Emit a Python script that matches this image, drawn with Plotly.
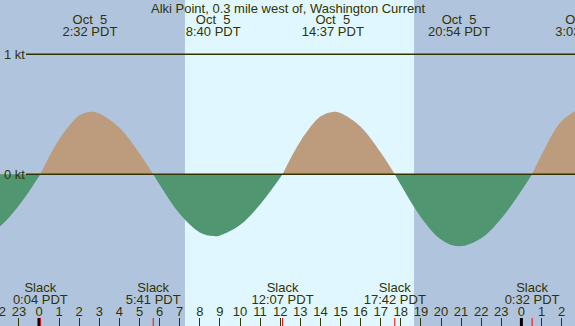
import plotly.graph_objects as go

# ---- data (hours from Oct 5 00:00 PDT) ----
hours = [-3, -2, -1, 0.067, 1, 2, 2.533, 3, 4, 5, 5.683, 6, 7, 8, 8.667, 9, 10, 11,
         12.117, 13, 14, 14.617, 15, 16, 17, 17.70, 18, 19, 20, 20.9, 22, 23, 24,
         24.533, 25, 26, 27.05]
speed_kt = [-0.519, -0.441, -0.26, 0, 0.291, 0.49, 0.52, 0.506, 0.387, 0.174, 0,
            -0.086, -0.329, -0.484, -0.515, -0.509, -0.423, -0.251, 0, 0.274, 0.481,
            0.52, 0.51, 0.396, 0.182, 0, -0.088, -0.357, -0.543, -0.6, -0.533, -0.369,
            -0.137, 0, 0.161, 0.444, 0.56]

slack_hours = [0.067, 5.683, 12.117, 17.70, 24.533]
slack_labels = ["0:04 PDT", "5:41 PDT", "12:07 PDT", "17:42 PDT", "0:32 PDT"]
max_hours = [2.533, 8.667, 14.617, 20.90, 27.05]
max_dates = ["Oct\u00a0\u00a05", "Oct\u00a0\u00a05", "Oct\u00a0\u00a05", "Oct\u00a0\u00a05", "Oct\u00a0\u00a06"]
max_labels = ["2:32 PDT", "8:40 PDT", "14:37 PDT", "20:54 PDT", "3:03 PDT"]
midnight_hours = [0, 24]
sunrise_hour = 7.26
sunset_hour = 18.66
tick_hours = list(range(-2, 27))
tick_labels = [str(h % 24) for h in tick_hours]
title_text = "Alki Point, 0.3 mile west of, Washington Current"

# ---- styling ----
W, H = 575, 326
PX_PER_HR = 20.1
X0_PX = 39.0
Y0_PX = 174.3
PX_PER_KT = 120.0
NIGHT = "#b0c4de"
DAY = "#e0f7ff"
FLOOD = "#bc9c7c"
EBB = "#509670"
INK = "#333300"
FONT = "Liberation Sans, Arial, sans-serif"

def xd(px):
    return (px - X0_PX) / PX_PER_HR

def yd(px):
    return (Y0_PX - px) / PX_PER_KT

fig = go.Figure()

# split into lobes at slack (zero) points
segments = []
cur_x, cur_y = [], []
for h, v in zip(hours, speed_kt):
    cur_x.append(h)
    cur_y.append(v)
    if v == 0 and len(cur_x) > 1:
        segments.append((cur_x, cur_y))
        cur_x, cur_y = [h], [v]
if len(cur_x) > 1:
    segments.append((cur_x, cur_y))

for sx, sy in segments:
    positive = sum(sy) > 0
    fig.add_trace(go.Scatter(
        x=sx, y=sy, mode="lines", line=dict(width=0, shape="spline", color=FLOOD if positive else EBB),
        fill="tozeroy", fillcolor=FLOOD if positive else EBB, hoverinfo="skip"))

# hour labels
fig.add_trace(go.Scatter(x=tick_hours, y=[yd(313)] * len(tick_hours), mode="text",
                         text=tick_labels, textposition="middle center",
                         textfont=dict(family=FONT, size=13, color=INK), hoverinfo="skip"))
# slack labels
fig.add_trace(go.Scatter(x=slack_hours, y=[yd(289)] * len(slack_hours), mode="text",
                         text=["Slack"] * len(slack_hours), textposition="middle center",
                         textfont=dict(family=FONT, size=13, color=INK), hoverinfo="skip"))
fig.add_trace(go.Scatter(x=slack_hours, y=[yd(300.5)] * len(slack_hours), mode="text",
                         text=slack_labels, textposition="middle center",
                         textfont=dict(family=FONT, size=13, color=INK), hoverinfo="skip"))
# max current labels
fig.add_trace(go.Scatter(x=max_hours, y=[yd(20.5)] * len(max_hours), mode="text",
                         text=max_dates, textposition="middle center",
                         textfont=dict(family=FONT, size=13, color=INK), hoverinfo="skip"))
fig.add_trace(go.Scatter(x=max_hours, y=[yd(32.5)] * len(max_hours), mode="text",
                         text=max_labels, textposition="middle center",
                         textfont=dict(family=FONT, size=13, color=INK), hoverinfo="skip"))

shapes = [
    dict(type="rect", xref="x", yref="paper", x0=sunrise_hour, x1=sunset_hour, y0=0, y1=1,
         fillcolor=DAY, line=dict(width=0), layer="below"),
    dict(type="line", xref="x", yref="y", x0=xd(26), x1=xd(W + 2), y0=1, y1=1,
         line=dict(color=INK, width=1.5), layer="above"),
    dict(type="line", xref="x", yref="y", x0=xd(26), x1=xd(W + 2), y0=0, y1=0,
         line=dict(color=INK, width=1.5), layer="above"),
]
tick_len_paper = 8 / H
for m in midnight_hours:
    shapes.append(dict(type="line", xref="x", yref="paper", x0=m, x1=m, y0=0, y1=tick_len_paper,
                       line=dict(color="#000000", width=3), layer="above"))
for s in slack_hours:
    shapes.append(dict(type="line", xref="x", yref="paper", x0=s, x1=s, y0=0, y1=tick_len_paper,
                       line=dict(color="#ff0000", width=1), layer="above"))

annotations = [
    dict(text=title_text, xref="paper", yref="y", x=0.5, y=yd(8), xanchor="center",
         yanchor="middle", showarrow=False, font=dict(family=FONT, size=13, color=INK)),
    dict(text="1 kt", xref="paper", yref="y", x=2 / W, y=1, xanchor="left", yanchor="middle",
         showarrow=False, font=dict(family=FONT, size=13, color=INK)),
    dict(text="0 kt", xref="paper", yref="y", x=2 / W, y=0, xanchor="left", yanchor="middle",
         showarrow=False, font=dict(family=FONT, size=13, color=INK)),
]

fig.update_layout(
    width=W, height=H, margin=dict(l=0, r=0, t=0, b=0),
    paper_bgcolor=NIGHT, plot_bgcolor=NIGHT, showlegend=False, hovermode=False,
    shapes=shapes, annotations=annotations,
    xaxis=dict(range=[xd(0), xd(W)], showgrid=False, zeroline=False, showline=False,
               ticks="inside", ticklen=8, tickwidth=1, tickcolor=INK, tick0=0, dtick=1,
               showticklabels=False, fixedrange=True),
    yaxis=dict(range=[yd(H), yd(0)], showgrid=False, zeroline=False, showline=False,
               showticklabels=False, ticks="", fixedrange=True),
)

fig.write_html("out.html", config={"displayModeBar": False},
               post_script="document.body.style.margin='0px';document.body.style.overflow='hidden';")
